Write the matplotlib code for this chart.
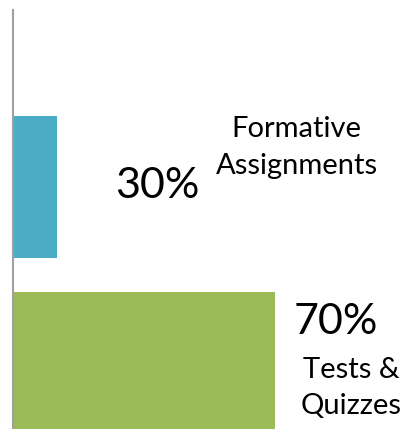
import matplotlib
matplotlib.use("Agg")
import matplotlib.pyplot as plt

categories = ["Formative\nAssignments", "Tests &\nQuizzes"]
values = [30, 70]
value_labels = ["30%", "70%"]
colors = ["#4BACC6", "#9BBB59"]

W, H = 403, 429
fig = plt.figure(figsize=(W / 100, H / 100), dpi=100)
ax = fig.add_axes([13 / W, 0, 1 - 13 / W, (H - 10) / H])

pos = list(range(len(categories)))
ax.barh(pos, values, height=0.807, color=colors, left=0)
ax.set_xlim(21.9, 93.6)
ax.set_ylim(1.375, -1.006)

for s in ["top", "right", "bottom"]:
    ax.spines[s].set_visible(False)
ax.spines["left"].set_color("#A0A0A0")
ax.spines["left"].set_linewidth(1.5)
ax.set_xticks([])
ax.set_yticks([])

font = ["Lato", "DejaVu Sans"]
# value labels (axes-fraction positions)
val_pos = [(0.370, 0.580), (0.827, 0.255)]
cat_pos = [(0.727, 0.672), (0.867, 0.098)]
for (vx, vy), lab in zip(val_pos, value_labels):
    ax.text(vx, vy, lab, transform=ax.transAxes, ha="center", va="center",
            fontsize=31, family=font, color="black")
for (cx, cy), lab in zip(cat_pos, categories):
    ax.text(cx, cy, lab, transform=ax.transAxes, ha="center", va="center",
            fontsize=21, family=font, color="black", linespacing=1.5)

fig.savefig("out.png", dpi=100)
